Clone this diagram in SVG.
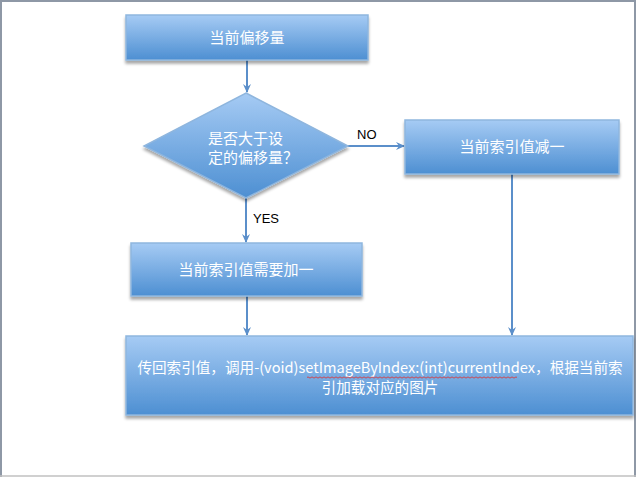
<svg xmlns="http://www.w3.org/2000/svg" width="636" height="477" viewBox="0 0 636 477">
<defs>
<linearGradient id="g" x1="0" y1="0" x2="0" y2="1">
<stop offset="0" stop-color="#a6cbf4"/>
<stop offset="1" stop-color="#4d8fd2"/>
</linearGradient>
<filter id="sh" x="-5%" y="-10%" width="110%" height="130%">
<feGaussianBlur in="SourceAlpha" stdDeviation="1.5"/>
<feOffset dx="0" dy="2.5" result="b"/>
<feComponentTransfer><feFuncA type="linear" slope="0.35"/></feComponentTransfer>
<feMerge><feMergeNode/><feMergeNode in="SourceGraphic"/></feMerge>
</filter>
<marker id="arr" markerWidth="10" markerHeight="10" refX="8" refY="5" orient="auto" markerUnits="userSpaceOnUse">
<path d="M0,1 L9,5 L0,9 L3,5 z" fill="#5b8fca"/>
</marker>
</defs>
<style>
.box{fill:url(#g);stroke:#8fb6de;stroke-width:1.5;filter:url(#sh)}
.t{font-family:"Noto Sans CJK SC","Liberation Sans",sans-serif;fill:#ffffff;font-size:15px;text-anchor:middle}
.s{text-anchor:start}
.sm{font-size:14.6px}
.lbl{font-family:"Liberation Sans","Open Sans",sans-serif;fill:#000;font-size:13px}
.c{stroke:#5b8fca;stroke-width:2;fill:none}
</style>
<rect x="0" y="0" width="636" height="477" fill="#ffffff"/>
<path d="M1,477 V1 H635 V477" fill="none" stroke="#8e98a6" stroke-width="2"/>
<line x1="0" y1="476" x2="636" y2="476" stroke="#c0c0c0" stroke-width="1.5"/>

<g id="connectors">
<line class="c" x1="247" y1="60" x2="247" y2="92" marker-end="url(#arr)"/>
<line class="c" x1="348" y1="146" x2="404" y2="146" marker-end="url(#arr)"/>
<line class="c" x1="246" y1="198" x2="246" y2="242" marker-end="url(#arr)"/>
<line class="c" x1="247" y1="296" x2="247" y2="335" marker-end="url(#arr)"/>
<line class="c" x1="512" y1="174" x2="512" y2="335" marker-end="url(#arr)"/>
<text class="lbl" x="357" y="139">NO</text>
<text class="lbl" x="253" y="223">YES</text>
</g>

<g id="n1">
<rect class="box" x="126" y="15" width="242" height="45"/>
<text class="t" x="247" y="43">当前偏移量</text>
</g>

<g id="n2">
<polygon class="box" points="246,93 348,146 246,198 144,146"/>
<text class="t s" x="208" y="144">是否大于设</text>
<text class="t s" x="208" y="163">定的偏移量？</text>
</g>

<g id="n3">
<rect class="box" x="405" y="120" width="214" height="54"/>
<text class="t" x="512" y="152">当前索引值减一</text>
</g>

<g id="n4">
<rect class="box" x="131" y="243" width="231" height="53"/>
<text class="t" x="246" y="275">当前索引值需要加一</text>
</g>

<g id="n5">
<rect class="box" x="126" y="336" width="507" height="79"/>
<text class="t sm" x="380" y="373">传回索引值，调用-(void)setImageByIndex:(int)currentIndex，根据当前索</text>
<text class="t sm" x="380" y="393">引加载对应的图片</text>
<path d="M307,377.5 q1,-1.2 2,0 t2,0 t2,0 t2,0 t2,0 t2,0 t2,0 t2,0 t2,0 t2,0 t2,0 t2,0 t2,0 t2,0 t2,0 t2,0 t2,0 t2,0 t2,0 t2,0 t2,0 t2,0 t2,0 t2,0 t2,0 t2,0 t2,0 t2,0 t2,0 t2,0 t2,0 t2,0 t2,0 t2,0 t2,0 t2,0 t2,0 t2,0 t2,0 t2,0 t2,0 t2,0 t2,0 t2,0 t2,0 t2,0 t2,0 t2,0 t2,0 t2,0 t2,0 t2,0 t2,0 t2,0 t2,0 t2,0 t2,0 t2,0 t2,0 t2,0 t2,0 t2,0 t2,0 t2,0 t2,0 t2,0 t2,0 t2,0 t2,0 t2,0 t2,0 t2,0 t2,0 t2,0 t2,0 t2,0 t2,0 t2,0 t2,0 t2,0 t2,0 t2,0 t2,0 t2,0 t2,0 t2,0 t2,0 t2,0 t2,0 t2,0 t2,0 t2,0 t2,0 t2,0 t2,0 t2,0 t2,0 t2,0 t2,0 t2,0 t2,0 t2,0 t2,0 t2,0 t2,0" fill="none" stroke="#e03030" stroke-width="0.8"/>
</g>
</svg>
